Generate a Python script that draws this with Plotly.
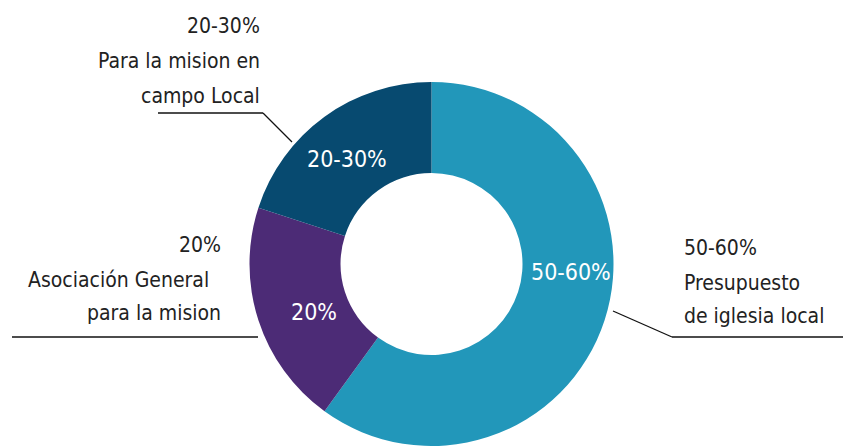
import plotly.graph_objects as go

# ---- data ----
categories = ["Presupuesto de iglesia local", "Asociación General para la mision", "Para la mision en campo Local"]
values = [60, 20, 20]
inside_labels = ["50-60%", "20%", "20-30%"]
outer_labels = [
    ["50-60%", "Presupuesto", "de iglesia local"],
    ["20%", "Asociación General\u00a0\u00a0", "para la mision"],
    ["20-30%", "Para la mision en", "campo Local"],
]
colors = ["#2297ba", "#4c2b76", "#074a70"]

W, H = 843, 446
FONT = "DejaVu Sans Condensed, Liberation Sans Narrow, sans-serif"
OUT_SIZE = 21
IN_SIZE = 23

def px(x):
    return x / W

def py(y):
    return 1 - y / H

fig = go.Figure()
fig.add_trace(go.Pie(
    labels=categories,
    values=values,
    hole=0.5,
    sort=False,
    direction="clockwise",
    rotation=0,
    marker=dict(colors=colors, line=dict(width=0)),
    textinfo="none",
    hoverinfo="label+percent",
    showlegend=False,
    domain=dict(x=[px(431.5 - 182), px(431.5 + 182)], y=[0, 364 / H]),
))

# inside labels (visual centres)
inside_pos = [(571, 272), (314, 312), (347, 159)]
for txt, (x, y) in zip(inside_labels, inside_pos):
    fig.add_annotation(x=px(x), y=py(y), xref="paper", yref="paper", text=txt,
                       showarrow=False, xanchor="center", yanchor="middle",
                       font=dict(family=FONT, size=IN_SIZE, color="white"))

# outer labels: anchor x, baselines of the three lines, alignment
outer_pos = [(682, [255, 290, 323], "left"),
             (223, [252, 287, 320], "right"),
             (262, [33, 68, 103], "right")]
for lines, (x, bases, anc) in zip(outer_labels, outer_pos):
    for line, b in zip(lines, bases):
        fig.add_annotation(x=px(x), y=py(b - 0.346 * OUT_SIZE), xref="paper", yref="paper",
                           text=line, showarrow=False, xanchor=anc, yanchor="middle",
                           font=dict(family=FONT, size=OUT_SIZE, color="#222222"))

# leader lines
segments = [
    ((158, 113), (263, 113)), ((263, 113), (292, 142)),
    ((12, 337), (258, 337)),
    ((613, 311), (672, 337)), ((672, 337), (843, 337)),
]
for (x0, y0), (x1, y1) in segments:
    fig.add_shape(type="line", xref="paper", yref="paper",
                  x0=px(x0), y0=py(y0), x1=px(x1), y1=py(y1),
                  line=dict(color="#111111", width=1.3))

fig.update_layout(
    width=W, height=H,
    margin=dict(l=0, r=0, t=0, b=0),
    paper_bgcolor="white",
    plot_bgcolor="white",
)

fig.write_html("out.html", config={"displayModeBar": False},
               post_script="document.body.style.margin='0';")
